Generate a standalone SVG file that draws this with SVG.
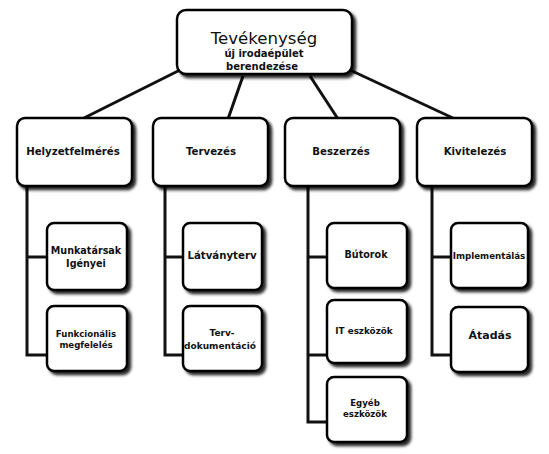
<svg xmlns="http://www.w3.org/2000/svg" width="549" height="454" viewBox="0 0 549 454">
<defs>
<filter id="sh" x="-10%" y="-10%" width="130%" height="130%">
<feDropShadow dx="3" dy="3" stdDeviation="1.5" flood-color="#000" flood-opacity="0.85"/>
</filter>
<style>
.box{fill:#fff;stroke:#000;stroke-width:2.5;filter:url(#sh)}
.ln{fill:none;stroke:#111;stroke-width:3}
text{font-family:"DejaVu Sans","Liberation Sans",sans-serif;font-weight:bold;text-anchor:middle;fill:#111}
.t1{font-size:10.2px}
</style>
</defs>
<rect width="549" height="454" fill="#fff"/>
<g id="connectors">
<line class="ln" x1="82" y1="119" x2="180" y2="70"/>
<line class="ln" x1="228" y1="119" x2="243" y2="76"/>
<line class="ln" x1="338" y1="119" x2="310" y2="76"/>
<line class="ln" x1="455" y1="119" x2="350" y2="70"/>
<polyline class="ln" points="27,186 27,355 47,355"/>
<line class="ln" x1="27" y1="257" x2="47" y2="257"/>
<polyline class="ln" points="165,186 165,355 183,355"/>
<line class="ln" x1="165" y1="257" x2="183" y2="257"/>
<polyline class="ln" points="308,186 308,422 327,422"/>
<line class="ln" x1="308" y1="257" x2="327" y2="257"/>
<line class="ln" x1="308" y1="355" x2="327" y2="355"/>
<polyline class="ln" points="432,186 432,355 451,355"/>
<line class="ln" x1="432" y1="257" x2="451" y2="257"/>
</g>
<g id="root">
<rect class="box" x="177" y="10" width="175" height="64" rx="9"/>
<text x="264" y="44" style="font-size:16.6px;font-weight:normal">Tevékenység</text>
<text x="264" y="57" style="font-size:10px">új irodaépület</text>
<text x="262" y="70" style="font-size:10px">berendezése</text>
</g>
<g id="helyzetfelmeres">
<rect class="box" x="17" y="118" width="115" height="68" rx="8"/>
<text class="t1" x="73" y="155">Helyzetfelmérés</text>
</g>
<g id="tervezes">
<rect class="box" x="153" y="118" width="115" height="68" rx="8"/>
<text class="t1" x="211" y="155">Tervezés</text>
</g>
<g id="beszerzes">
<rect class="box" x="285" y="118" width="115" height="68" rx="8"/>
<text class="t1" x="341" y="155">Beszerzés</text>
</g>
<g id="kivitelezes">
<rect class="box" x="417" y="118" width="115" height="68" rx="8"/>
<text class="t1" x="475" y="155">Kivitelezés</text>
</g>
<g id="munkatarsak">
<rect class="box" x="47" y="223" width="80" height="67" rx="7"/>
<text x="86" y="254" style="font-size:9.6px">Munkatársak</text>
<text x="86" y="267" style="font-size:9.6px">Igényei</text>
</g>
<g id="funkcionalis">
<rect class="box" x="47" y="306" width="80" height="65" rx="7"/>
<text x="86" y="337" style="font-size:8.6px">Funkcionális</text>
<text x="86" y="348" style="font-size:8.6px">megfelelés</text>
</g>
<g id="latvanyterv">
<rect class="box" x="183" y="223" width="79" height="67" rx="7"/>
<text x="222" y="259" style="font-size:10.2px">Látványterv</text>
</g>
<g id="tervdok">
<rect class="box" x="183" y="306" width="79" height="65" rx="7"/>
<text x="222" y="336" style="font-size:9px">Terv-</text>
<text x="220" y="349" style="font-size:9px">dokumentáció</text>
</g>
<g id="butorok">
<rect class="box" x="327" y="223" width="80" height="65" rx="7"/>
<text x="366" y="258" style="font-size:9.6px">Bútorok</text>
</g>
<g id="it">
<rect class="box" x="327" y="300" width="80" height="63" rx="7"/>
<text x="364" y="334" style="font-size:8.8px">IT eszközök</text>
</g>
<g id="egyeb">
<rect class="box" x="327" y="377" width="80" height="65" rx="7"/>
<text x="365" y="406" style="font-size:8.6px">Egyéb</text>
<text x="365" y="417" style="font-size:8.6px">eszközök</text>
</g>
<g id="implementalas">
<rect class="box" x="451" y="223" width="77" height="65" rx="7"/>
<text x="489" y="259" style="font-size:8.7px">Implementálás</text>
</g>
<g id="atadas">
<rect class="box" x="451" y="307" width="77" height="65" rx="7"/>
<text x="490" y="339" style="font-size:11px">Átadás</text>
</g>
</svg>
